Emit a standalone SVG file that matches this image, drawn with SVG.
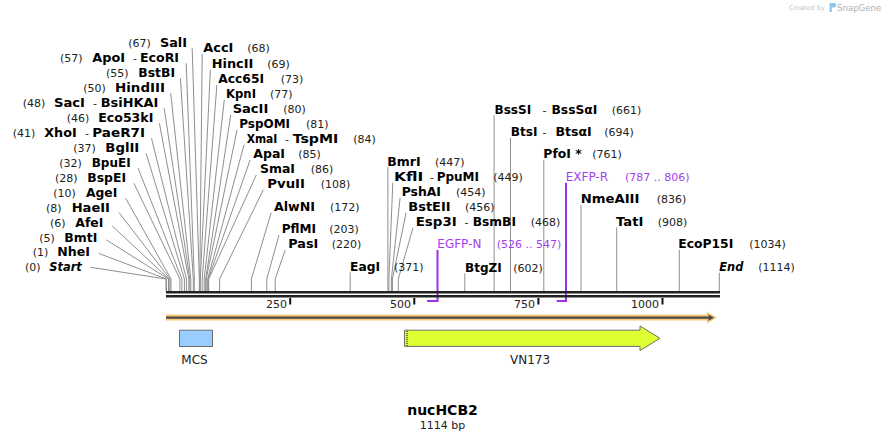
<svg xmlns="http://www.w3.org/2000/svg" width="886" height="441" viewBox="0 0 886 441">
<style>
.n{font-family:"DejaVu Sans",Verdana,sans-serif;font-weight:bold;font-size:12px;fill:#000}
.p{font-family:"DejaVu Sans",Verdana,sans-serif;font-size:11px;fill:#222}
.i{font-style:italic}
.pr{font-family:"DejaVu Sans",Verdana,sans-serif;font-size:12px;fill:#a33ff0}
.prn{font-family:"DejaVu Sans",Verdana,sans-serif;font-size:11px;fill:#a33ff0}
.ft{font-family:"DejaVu Sans",Verdana,sans-serif;font-size:12px;fill:#222;text-anchor:middle}
.ld{stroke:#8f8f8f;stroke-width:1;fill:none}
.prl{stroke:#9d2ff0;stroke-width:2;fill:none}
.tk{fill:#111}
</style>
<rect width="886" height="441" fill="#fff"/>
<g id="watermark">
<text x="789" y="10" style="font-family:'DejaVu Sans',sans-serif;font-size:6.5px;fill:#c4c4c4">Created by</text>
<path d="M829.5 3 h4.5 a2.3 2.3 0 0 1 0 4.6 h-2.2 v4.4 h-2.3 z" fill="#8cc8ee"/>
<text x="837" y="11" style="font-family:'DejaVu Sans',sans-serif;font-size:8.6px;fill:#b0b0b0">SnapGene</text>
</g>
<g id="connectors">
<polyline class="ld" points="192.2,48.3 199.3,279 199.3,291"/>
<polyline class="ld" points="186.2,63.3 194.3,279 194.3,291"/>
<polyline class="ld" points="180.4,78.3 193.3,279 193.3,291"/>
<polyline class="ld" points="170.7,93.3 190.8,279 190.8,291"/>
<polyline class="ld" points="164.2,108.3 189.8,279 189.8,291"/>
<polyline class="ld" points="159.4,123.3 188.8,279 188.8,291"/>
<polyline class="ld" points="151.5,138.3 186.4,279 186.4,291"/>
<polyline class="ld" points="146.1,153.3 184.4,279 184.4,291"/>
<polyline class="ld" points="138.1,168.3 181.9,279 181.9,291"/>
<polyline class="ld" points="133.9,183.3 179.9,279 179.9,291"/>
<polyline class="ld" points="125.7,198.3 171,279 171,291"/>
<polyline class="ld" points="119,212.5 170,279 170,291"/>
<polyline class="ld" points="112.3,226 169,279 169,291"/>
<polyline class="ld" points="106.3,239.8 168.5,279 168.5,291"/>
<polyline class="ld" points="99,253.5 166.5,279 166.5,291"/>
<polyline class="ld" points="90.7,267.3 166,279 166,291"/>
<polyline class="ld" points="202.2,54 199.8,279 199.8,291"/>
<polyline class="ld" points="210.4,69.7 200.3,279 200.3,291"/>
<polyline class="ld" points="216.9,84.8 202.2,279 202.2,291"/>
<polyline class="ld" points="224.3,99.8 204.2,279 204.2,291"/>
<polyline class="ld" points="230.8,114.7 205.7,279 205.7,291"/>
<polyline class="ld" points="237.1,129.8 206.2,279 206.2,291"/>
<polyline class="ld" points="244.1,144.7 207.7,279 207.7,291"/>
<polyline class="ld" points="250.2,159.8 208.2,279 208.2,291"/>
<polyline class="ld" points="256.3,175 208.7,279 208.7,291"/>
<polyline class="ld" points="263.4,189.7 219.6,279 219.6,291"/>
<polyline class="ld" points="271.2,212.7 251.4,279 251.4,291"/>
<polyline class="ld" points="279,235 266.8,279 266.8,291"/>
<polyline class="ld" points="285.2,250 275.2,279 275.2,291"/>
<polyline class="ld" points="392.8,182.7 388.9,279 388.9,291"/>
<polyline class="ld" points="400.1,197.7 391.4,279 391.4,291"/>
<polyline class="ld" points="406.1,212.7 392.4,279 392.4,291"/>
<polyline class="ld" points="413,227.7 398.3,279 398.3,291"/>
<line class="ld" x1="350.2" y1="272.3" x2="350.2" y2="291"/>
<line class="ld" x1="387.9" y1="167" x2="387.9" y2="291"/>
<line class="ld" x1="464.8" y1="273.3" x2="464.8" y2="291"/>
<line class="ld" x1="494.1" y1="115.2" x2="494.1" y2="291"/>
<line class="ld" x1="510.5" y1="138" x2="510.5" y2="291"/>
<line class="ld" x1="543.8" y1="159.7" x2="543.8" y2="291"/>
<line class="ld" x1="581" y1="205" x2="581" y2="291"/>
<line class="ld" x1="616.7" y1="227.5" x2="616.7" y2="291"/>
<line class="ld" x1="679.3" y1="249.7" x2="679.3" y2="291"/>
<line class="ld" x1="719.3" y1="272.7" x2="719.3" y2="291"/>
<polyline class="prl" points="437.5,250 437.5,301 427.1,301"/>
<polyline class="prl" points="566,182.7 566,301 556.7,301"/>
</g>
<g id="sequence">
<rect x="166" y="291" width="554" height="2.5" fill="#222"/>
<rect x="166" y="295" width="554" height="2.5" fill="#222"/>
</g>
<g id="ruler">
<rect class="tk" x="289.2" y="298" width="2" height="6.5"/>
<rect class="tk" x="413.3" y="298" width="2" height="6.5"/>
<rect class="tk" x="537.4" y="298" width="2" height="6.5"/>
<rect class="tk" x="661.5" y="298" width="2" height="6.5"/>
<text class="p" x="287" y="307.5" text-anchor="end">250</text>
<text class="p" x="411" y="307.5" text-anchor="end">500</text>
<text class="p" x="535" y="307.5" text-anchor="end">750</text>
<text class="p" x="659" y="307.5" text-anchor="end">1000</text>
</g>
<g id="sequence-arrow">
<rect x="166" y="314.5" width="544" height="6" fill="#f9c77a"/>
<polygon points="707,311.8 717,317.6 707,323.4" fill="#f9c77a"/>
<line x1="166" y1="317.7" x2="711" y2="317.7" stroke="#4a4a4a" stroke-width="2.2"/>
<polygon points="708.5,314.6 714,317.7 708.5,320.8" fill="#4a4a4a"/>
</g>
<g id="MCS">
<rect x="179.5" y="330.2" width="33" height="16.3" fill="#99ccff" stroke="#6e6e6e" stroke-width="1"/>
<text class="ft" x="194.5" y="364">MCS</text>
</g>
<g id="VN173">
<polygon points="404.5,330.2 640,330.2 640,326 660,338.3 640,350.6 640,346.4 404.5,346.4" fill="#e0ff33" stroke="#6e6e6e" stroke-width="1"/>
<line x1="407" y1="331" x2="407" y2="346" stroke="#000" stroke-width="1" stroke-dasharray="1,1"/>
<text class="ft" x="530" y="364">VN173</text>
</g>
<g id="title">
<text x="442.5" y="415" text-anchor="middle" style="font-family:'DejaVu Sans',Verdana,sans-serif;font-weight:bold;font-size:14px;fill:#000">nucHCB2</text>
<text x="442.5" y="428.5" text-anchor="middle" style="font-family:'DejaVu Sans',Verdana,sans-serif;font-size:11px;fill:#222">1114 bp</text>
</g>
<g id="SalI"><text class="p" x="128.3" y="46.7">(67)</text><text class="n" x="160" y="46.7" textLength="27" lengthAdjust="spacingAndGlyphs">SalI</text></g>
<g id="ApoI"><text class="p" x="60" y="61.7">(57)</text><text class="n" x="92.3" y="61.7" textLength="32.7" lengthAdjust="spacingAndGlyphs">ApoI</text><text class="p" x="133" y="61.7">-</text><text class="n" x="140" y="61.7" textLength="39" lengthAdjust="spacingAndGlyphs">EcoRI</text></g>
<g id="BstBI"><text class="p" x="106" y="76.7">(55)</text><text class="n" x="138.3" y="76.7" textLength="36.7" lengthAdjust="spacingAndGlyphs">BstBI</text></g>
<g id="HindIII"><text class="p" x="83.3" y="91.7">(50)</text><text class="n" x="115" y="91.7" textLength="50" lengthAdjust="spacingAndGlyphs">HindIII</text></g>
<g id="SacI"><text class="p" x="22.7" y="106.7">(48)</text><text class="n" x="54" y="106.7" textLength="31" lengthAdjust="spacingAndGlyphs">SacI</text><text class="p" x="93" y="106.7">-</text><text class="n" x="100.7" y="106.7" textLength="57.6" lengthAdjust="spacingAndGlyphs">BsiHKAI</text></g>
<g id="Eco53kI"><text class="p" x="66.7" y="121.7">(46)</text><text class="n" x="98.3" y="121.7" textLength="55" lengthAdjust="spacingAndGlyphs">Eco53kI</text></g>
<g id="XhoI"><text class="p" x="12.7" y="136.7">(41)</text><text class="n" x="44.3" y="136.7" textLength="32.4" lengthAdjust="spacingAndGlyphs">XhoI</text><text class="p" x="85" y="136.7">-</text><text class="n" x="92.3" y="136.7" textLength="52.7" lengthAdjust="spacingAndGlyphs">PaeR7I</text></g>
<g id="BglII"><text class="p" x="73.3" y="151.7">(37)</text><text class="n" x="105.3" y="151.7" textLength="34" lengthAdjust="spacingAndGlyphs">BglII</text></g>
<g id="BpuEI"><text class="p" x="59.3" y="166.7">(32)</text><text class="n" x="91.7" y="166.7" textLength="39" lengthAdjust="spacingAndGlyphs">BpuEI</text></g>
<g id="BspEI"><text class="p" x="55" y="181.7">(28)</text><text class="n" x="87.3" y="181.7" textLength="38.7" lengthAdjust="spacingAndGlyphs">BspEI</text></g>
<g id="AgeI"><text class="p" x="53.3" y="196.7">(10)</text><text class="n" x="86" y="196.7" textLength="31.3" lengthAdjust="spacingAndGlyphs">AgeI</text></g>
<g id="HaeII"><text class="p" x="46" y="211.7">(8)</text><text class="n" x="71.7" y="211.7" textLength="38.3" lengthAdjust="spacingAndGlyphs">HaeII</text></g>
<g id="AfeI"><text class="p" x="50" y="226.7">(6)</text><text class="n" x="75.3" y="226.7" textLength="28" lengthAdjust="spacingAndGlyphs">AfeI</text></g>
<g id="BmtI"><text class="p" x="39.3" y="241.7">(5)</text><text class="n" x="64.3" y="241.7" textLength="33" lengthAdjust="spacingAndGlyphs">BmtI</text></g>
<g id="NheI"><text class="p" x="32.7" y="256.4">(1)</text><text class="n" x="57.3" y="256.4" textLength="32.7" lengthAdjust="spacingAndGlyphs">NheI</text></g>
<g id="Start"><text class="p" x="25" y="271.1">(0)</text><text class="n i" x="49.3" y="271.1" textLength="32.4" lengthAdjust="spacingAndGlyphs">Start</text></g>
<g id="AccI"><text class="n" x="203.3" y="52.4" textLength="30" lengthAdjust="spacingAndGlyphs">AccI</text><text class="p" x="247.3" y="52.4">(68)</text></g>
<g id="HincII"><text class="n" x="211.7" y="68.1" textLength="41.6" lengthAdjust="spacingAndGlyphs">HincII</text><text class="p" x="267.3" y="68.1">(69)</text></g>
<g id="Acc65I"><text class="n" x="218.3" y="83.2" textLength="45.7" lengthAdjust="spacingAndGlyphs">Acc65I</text><text class="p" x="280.7" y="83.2">(73)</text></g>
<g id="KpnI"><text class="n" x="226" y="98.2" textLength="30" lengthAdjust="spacingAndGlyphs">KpnI</text><text class="p" x="270" y="98.2">(77)</text></g>
<g id="SacII"><text class="n" x="232.7" y="113.1" textLength="35.6" lengthAdjust="spacingAndGlyphs">SacII</text><text class="p" x="283.3" y="113.1">(80)</text></g>
<g id="PspOMI"><text class="n" x="239.3" y="128.2" textLength="50.7" lengthAdjust="spacingAndGlyphs">PspOMI</text><text class="p" x="306" y="128.2">(81)</text></g>
<g id="XmaI"><text class="n" x="246.7" y="143.1" textLength="30.6" lengthAdjust="spacingAndGlyphs">XmaI</text><text class="p" x="285" y="143.1">-</text><text class="n" x="292.7" y="143.1" textLength="45.6" lengthAdjust="spacingAndGlyphs">TspMI</text><text class="p" x="353.3" y="143.1">(84)</text></g>
<g id="ApaI"><text class="n" x="253.3" y="158.2" textLength="31.7" lengthAdjust="spacingAndGlyphs">ApaI</text><text class="p" x="298.3" y="158.2">(85)</text></g>
<g id="SmaI"><text class="n" x="260" y="173.4" textLength="35" lengthAdjust="spacingAndGlyphs">SmaI</text><text class="p" x="310.7" y="173.4">(86)</text></g>
<g id="PvuII"><text class="n" x="267.3" y="188.1" textLength="37.7" lengthAdjust="spacingAndGlyphs">PvuII</text><text class="p" x="320.7" y="188.1">(108)</text></g>
<g id="AlwNI"><text class="n" x="274" y="211.1" textLength="41" lengthAdjust="spacingAndGlyphs">AlwNI</text><text class="p" x="330" y="211.1">(172)</text></g>
<g id="PflMI"><text class="n" x="281.7" y="233.4" textLength="34.3" lengthAdjust="spacingAndGlyphs">PflMI</text><text class="p" x="329.3" y="233.4">(203)</text></g>
<g id="PasI"><text class="n" x="288.3" y="248.4" textLength="30" lengthAdjust="spacingAndGlyphs">PasI</text><text class="p" x="331.7" y="248.4">(220)</text></g>
<g id="EagI"><text class="n" x="350" y="270.7" textLength="30" lengthAdjust="spacingAndGlyphs">EagI</text><text class="p" x="394" y="270.7">(371)</text></g>
<g id="BmrI"><text class="n" x="387.3" y="166" textLength="33.3" lengthAdjust="spacingAndGlyphs">BmrI</text><text class="p" x="435" y="166">(447)</text></g>
<g id="KflI"><text class="n" x="394" y="180.8" textLength="29.3" lengthAdjust="spacingAndGlyphs">KflI</text><text class="p" x="430" y="180.8">-</text><text class="n" x="436.7" y="180.8" textLength="42.3" lengthAdjust="spacingAndGlyphs">PpuMI</text><text class="p" x="493.3" y="180.8">(449)</text></g>
<g id="PshAI"><text class="n" x="401.7" y="196" textLength="39.3" lengthAdjust="spacingAndGlyphs">PshAI</text><text class="p" x="456" y="196">(454)</text></g>
<g id="BstEII"><text class="n" x="408.3" y="211" textLength="42.3" lengthAdjust="spacingAndGlyphs">BstEII</text><text class="p" x="465" y="211">(456)</text></g>
<g id="Esp3I"><text class="n" x="415.7" y="226" textLength="41" lengthAdjust="spacingAndGlyphs">Esp3I</text><text class="p" x="464.5" y="226">-</text><text class="n" x="472.7" y="226" textLength="43.3" lengthAdjust="spacingAndGlyphs">BsmBI</text><text class="p" x="530.7" y="226">(468)</text></g>
<g id="EGFP-N"><text class="pr" x="437.3" y="248.4">EGFP-N</text><text class="prn" x="496.7" y="248.4">(526 .. 547)</text></g>
<g id="BtgZI"><text class="n" x="465" y="271.7" textLength="36.7" lengthAdjust="spacingAndGlyphs">BtgZI</text><text class="p" x="513.3" y="271.7">(602)</text></g>
<g id="BssSI"><text class="n" x="494.5" y="113.6" textLength="36.7" lengthAdjust="spacingAndGlyphs">BssSI</text><text class="p" x="542.5" y="113.6">-</text><text class="n" x="551.5" y="113.6" textLength="45.8" lengthAdjust="spacingAndGlyphs">BssSαI</text><text class="p" x="611.7" y="113.6">(661)</text></g>
<g id="BtsI"><text class="n" x="510.7" y="136.4" textLength="26.7" lengthAdjust="spacingAndGlyphs">BtsI</text><text class="p" x="542.5" y="136.4">-</text><text class="n" x="555.5" y="136.4" textLength="36.2" lengthAdjust="spacingAndGlyphs">BtsαI</text><text class="p" x="604.3" y="136.4">(694)</text></g>
<g id="PfoI"><text class="n" x="543.3" y="158" textLength="38.4" lengthAdjust="spacingAndGlyphs">PfoI *</text><text class="p" x="592.3" y="158">(761)</text></g>
<g id="EXFP-R"><text class="pr" x="565.7" y="181">EXFP-R</text><text class="prn" x="625" y="181">(787 .. 806)</text></g>
<g id="NmeAIII"><text class="n" x="580.7" y="203.2" textLength="58.7" lengthAdjust="spacingAndGlyphs">NmeAIII</text><text class="p" x="656.7" y="203.2">(836)</text></g>
<g id="TatI"><text class="n" x="616" y="225.6" textLength="27.3" lengthAdjust="spacingAndGlyphs">TatI</text><text class="p" x="657.7" y="225.6">(908)</text></g>
<g id="EcoP15I"><text class="n" x="678.3" y="248.1" textLength="55" lengthAdjust="spacingAndGlyphs">EcoP15I</text><text class="p" x="749.3" y="248.1">(1034)</text></g>
<g id="End"><text class="n i" x="719.3" y="271.1" textLength="24" lengthAdjust="spacingAndGlyphs">End</text><text class="p" x="758.3" y="271.1">(1114)</text></g>
</svg>
